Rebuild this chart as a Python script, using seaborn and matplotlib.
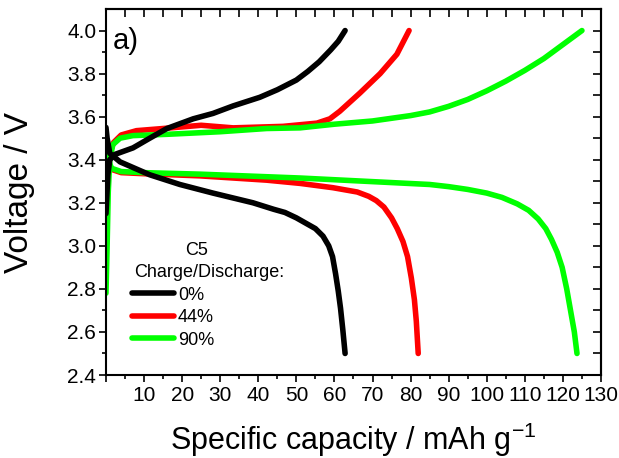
import numpy as np
import pandas as pd
import matplotlib
matplotlib.use("Agg")
import matplotlib.pyplot as plt
from matplotlib.lines import Line2D
import seaborn as sns

# ---- data ----
levels = ["0%", "44%", "90%"]
colors = ["#000000", "#ff0000", "#00ff00"]

cap_ch_0 = [0.0, 0.5, 1.0, 2.4, 7.1, 11.5, 16.0, 22.9, 28.1, 33.4, 40.4, 45.0, 50.0, 53.0, 56.0, 59.0, 61.0, 62.8]
v_ch_0 = [3.15, 3.33, 3.40, 3.425, 3.455, 3.50, 3.545, 3.59, 3.615, 3.65, 3.69, 3.725, 3.77, 3.81, 3.855, 3.91, 3.95, 4.00]
cap_dis_0 = [0.0, 0.3, 1.0, 3.7, 11.5, 19.4, 28.1, 38.6, 44.0, 47.0, 50.0, 53.0, 55.0, 57.0, 58.5, 59.5, 60.3, 61.0, 61.6, 62.2, 62.8]
v_dis_0 = [3.55, 3.50, 3.43, 3.39, 3.33, 3.285, 3.245, 3.20, 3.17, 3.155, 3.13, 3.10, 3.08, 3.045, 3.00, 2.95, 2.87, 2.79, 2.71, 2.61, 2.50]

cap_ch_44 = [0.0, 0.5, 1.0, 2.0, 4.0, 8.0, 15.0, 25.0, 33.4, 46.5, 55.4, 58.8, 61.4, 66.7, 72.0, 76.4, 79.6]
v_ch_44 = [3.30, 3.38, 3.43, 3.48, 3.515, 3.535, 3.545, 3.56, 3.548, 3.555, 3.57, 3.59, 3.625, 3.71, 3.80, 3.89, 4.00]
cap_dis_44 = [0.0, 0.5, 1.5, 4.0, 10.0, 24.7, 42.2, 51.0, 59.6, 66.0, 69.0, 71.0, 73.0, 75.0, 76.5, 78.0, 79.2, 80.2, 81.0, 81.5, 82.0]
v_dis_44 = [3.42, 3.38, 3.355, 3.34, 3.335, 3.325, 3.305, 3.29, 3.27, 3.25, 3.23, 3.21, 3.18, 3.13, 3.08, 3.02, 2.95, 2.85, 2.75, 2.65, 2.50]

cap_ch_90 = [0.0, 0.3, 0.6, 1.0, 1.8, 3.7, 7.1, 16.0, 30.0, 42.2, 51.0, 60.0, 70.0, 80.0, 85.0, 90.0, 95.0, 100.0, 105.0, 110.0, 115.0, 120.0, 125.0]
v_ch_90 = [2.78, 3.00, 3.25, 3.40, 3.47, 3.50, 3.512, 3.518, 3.53, 3.545, 3.548, 3.565, 3.58, 3.605, 3.622, 3.648, 3.68, 3.72, 3.765, 3.815, 3.87, 3.935, 4.00]
cap_dis_90 = [0.0, 0.5, 1.5, 4.0, 10.0, 24.7, 51.0, 85.0, 90.0, 95.0, 100.0, 104.0, 108.0, 111.0, 113.5, 115.5, 117.0, 118.5, 119.8, 121.0, 122.0, 123.0, 123.7]
v_dis_90 = [3.48, 3.40, 3.36, 3.345, 3.34, 3.333, 3.315, 3.285, 3.275, 3.262, 3.245, 3.225, 3.195, 3.165, 3.125, 3.08, 3.03, 2.97, 2.90, 2.80, 2.70, 2.60, 2.50]

x_ticks = [0, 10, 20, 30, 40, 50, 60, 70, 80, 90, 100, 110, 120, 130]
x_tick_labels = ["", "10", "20", "30", "40", "50", "60", "70", "80", "90", "100", "110", "120", "130"]
y_ticks = [2.4, 2.6, 2.8, 3.0, 3.2, 3.4, 3.6, 3.8, 4.0]
y_tick_labels = ["2.4", "2.6", "2.8", "3.0", "3.2", "3.4", "3.6", "3.8", "4.0"]

# ---- style ----
sns.set_theme(style="white")
plt.rcParams["font.family"] = ["Liberation Sans", "DejaVu Sans"]
plt.rcParams["mathtext.fontset"] = "custom"
plt.rcParams["mathtext.rm"] = "Liberation Sans"
plt.rcParams["mathtext.it"] = "Liberation Sans"
plt.rcParams["text.color"] = "black"
plt.rcParams["axes.labelcolor"] = "black"

fig = plt.figure(figsize=(6.19, 4.58), dpi=100)
ax = fig.add_axes([0.1712, 0.1812, 0.7997, 0.7991])

curves = {
    "0%": [(cap_ch_0, v_ch_0), (cap_dis_0, v_dis_0)],
    "44%": [(cap_ch_44, v_ch_44), (cap_dis_44, v_dis_44)],
    "90%": [(cap_ch_90, v_ch_90), (cap_dis_90, v_dis_90)],
}
col = dict(zip(levels, colors))
lw = 4.0
for lev in ["44%", "90%", "0%"]:
    for cx, vy in curves[lev]:
        df = pd.DataFrame({"cap": cx, "V": vy})
        sns.lineplot(data=df, x="cap", y="V", sort=False, estimator=None,
                     color=col[lev], lw=lw, ax=ax, solid_capstyle="round",
                     solid_joinstyle="round")

ax.set_xlim(0, 130)
ax.set_ylim(2.4, 4.1)
ax.set_xticks(x_ticks)
ax.set_xticklabels(x_tick_labels)
ax.set_yticks(y_ticks)
ax.set_yticklabels(y_tick_labels)
ax.set_xticks(np.arange(5, 130, 10), minor=True)
ax.set_yticks(np.arange(2.5, 4.1, 0.2), minor=True)
ax.tick_params(axis="both", which="major", direction="out", length=5, width=1.2,
               labelsize=15, colors="black", labelcolor="black", pad=2,
               bottom=True, left=True)
ax.tick_params(axis="both", which="minor", direction="out", length=3, width=1.2,
               bottom=True, left=True, colors="black")
ax.tick_params(axis="x", pad=3)

for s in ax.spines.values():
    s.set_color("black")
    s.set_linewidth(1.5)

secx = ax.secondary_xaxis("top")
secx.set_xticks(np.arange(0, 131, 5))
secx.tick_params(direction="in", length=6, width=1.2, labeltop=False, colors="black")
secx.spines["top"].set_linewidth(1.5)
secy = ax.secondary_yaxis("right")
secy.set_yticks(np.arange(2.4, 4.11, 0.1))
secy.tick_params(direction="in", length=6, width=1.2, labelright=False, colors="black")
secy.spines["right"].set_linewidth(1.5)

ax.set_xlabel(r"Specific capacity / mAh g$^{-1}$", fontsize=22)
ax.xaxis.set_label_coords(0.5, -0.125)
ax.set_ylabel("Voltage / V", fontsize=24)
ax.yaxis.set_label_coords(-0.143, 0.5)

ax.text(0.014, 0.95, "a)", transform=ax.transAxes, fontsize=21, va="top", ha="left")

ax.text(0.184, 0.3415, "C5", transform=ax.transAxes, fontsize=13, ha="center", va="center")
ax.text(0.0566, 0.281, "Charge/Discharge:", transform=ax.transAxes, fontsize=13,
        ha="left", va="center")

handles = [Line2D([0], [0], color=c, lw=lw, solid_capstyle="round") for c in colors]
leg = ax.legend(handles, levels, loc="upper left",
                bbox_to_anchor=(0.0525, 0.241), frameon=False, fontsize=13,
                handlelength=2.35, handletextpad=0.2,
                labelspacing=0.3, borderpad=0, borderaxespad=0)
for t in leg.get_texts():
    t.set_color("black")

fig.savefig("out.png", dpi=100)
